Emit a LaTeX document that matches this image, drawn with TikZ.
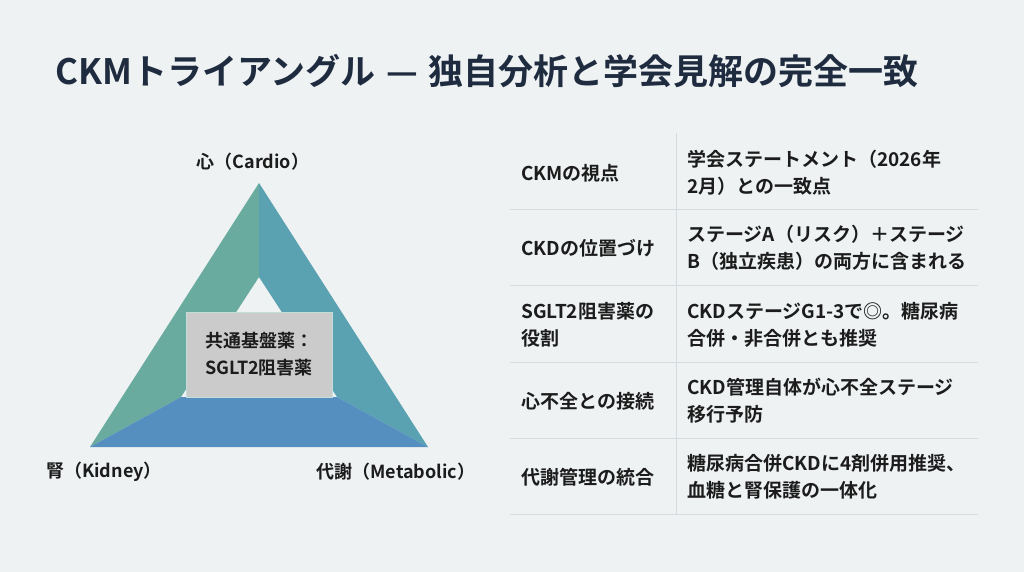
\documentclass[tikz,border=0pt]{standalone}
\usepackage{fontspec}
\setmainfont{Noto Sans CJK JP}[UprightFont=* Medium, BoldFont=* Bold]
\usepackage{tikz}
\usetikzlibrary{positioning}

\definecolor{bgcol}{HTML}{EEF2F3}
\definecolor{titlecol}{HTML}{1F2C40}
\definecolor{textdark}{HTML}{1C1C1C}
\definecolor{rulegray}{HTML}{D5DBDF}
\definecolor{sidegreen}{HTML}{6AAB9F}
\definecolor{sideteal}{HTML}{5AA1B1}
\definecolor{sideblue}{HTML}{548FC0}
\definecolor{boxgray}{HTML}{CBCBCB}

\begin{document}
\begin{tikzpicture}[x=1pt, y=-1pt,
    every node/.style={inner sep=0pt, text=textdark},
    vertex/.style={font=\fontsize{18}{22}\selectfont\bfseries},
    cell/.style={anchor=west, align=left, font=\fontsize{19}{27}\selectfont\bfseries},
    rule/.style={draw=rulegray, line width=1pt}]
      \fill[bgcol] (0,0) rectangle (1024,572);
      \useasboundingbox (0,0) rectangle (1024,572);

      \node[anchor=base west, text=titlecol, font=\fontsize{35}{40}\selectfont\bfseries] (title) at (55, 85)
        {CKMトライアングル\hspace{0.3em}—\hspace{0.3em}独自分析と学会見解の完全一致};

      % triangle
      \coordinate (top) at (259, 183);
      \coordinate (kid) at (90, 447);
      \coordinate (met) at (428, 447);
      \coordinate (itop) at (259, 277);
      \coordinate (ikid) at (181, 397);
      \coordinate (imet) at (337, 397);

      \fill[sidegreen] (top) -- (itop) -- (ikid) -- (kid) -- cycle;
      \fill[sideteal] (top) -- (met) -- (imet) -- (itop) -- cycle;
      \fill[sideblue] (kid) -- (ikid) -- (imet) -- (met) -- cycle;

      \node[fill=boxgray, draw=sidegreen!40!white, line width=0.8pt, minimum width=146pt, minimum height=85pt,
        align=center, font=\fontsize{18}{27}\selectfont\bfseries] (sglt) at (259, 354.5) {共通基盤薬：\\SGLT2阻害薬};

      \node[vertex] (cardio) at (253, 162) {心（Cardio）};
      \node[vertex] (kidney) at (104, 472) {腎（Kidney）};
      \node[vertex] (metab) at (396, 472) {代謝（Metabolic）};

      % table
      \draw[rule] (676, 133) -- (676, 514);
      \foreach \y in {209, 285, 362, 438, 514}
        \draw[rule] (510, \y) -- (978, \y);

      \node[cell] (ckm) at (521, 173) {CKMの視点};
      \node[cell] (ckmv) at (687, 173) {学会ステートメント（2026年\\2月）との一致点};

      \node[cell] (ckd) at (521, 248) {CKDの位置づけ};
      \node[cell] (ckdv) at (687, 248) {ステージA（リスク）＋ステージ\\B（独立疾患）の両方に含まれる};

      \node[cell] (role) at (521, 325) {SGLT2阻害薬の\\役割};
      \node[cell] (rolev) at (687, 325) {CKDステージG1-3で◎。糖尿病\\合併・非合併とも推奨};

      \node[cell] (heart) at (521, 401) {心不全との接続};
      \node[cell] (heartv) at (687, 401) {CKD管理自体が心不全ステージ\\移行予防};

      \node[cell] (integ) at (521, 477) {代謝管理の統合};
      \node[cell] (integv) at (687, 477) {糖尿病合併CKDに4剤併用推奨、\\血糖と腎保護の一体化};
    \end{tikzpicture}
\end{document}
